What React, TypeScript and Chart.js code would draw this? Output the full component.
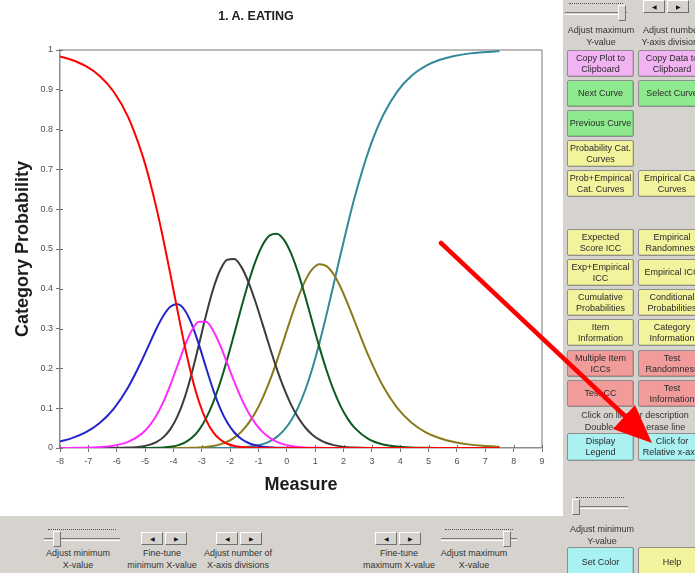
import React, { useEffect, useRef } from 'react';
import { Chart, registerables } from 'chart.js';

Chart.register(...registerables);

const FONT = "'Liberation Sans', Arial, Helvetica, sans-serif";

// ---- Data ----
const CHART_TITLE = '1. A. EATING';
const X_TITLE = 'Measure';
const Y_TITLE = 'Category Probability';
const X_TICKS = [-8, -7, -6, -5, -4, -3, -2, -1, 0, 1, 2, 3, 4, 5, 6, 7, 8, 9];
const Y_TICKS = [0, 0.1, 0.2, 0.3, 0.4, 0.5, 0.6, 0.7, 0.8, 0.9, 1];

const MEASURES = [
  -8, -7.6, -7.1, -6.6, -6.1, -5.6, -5.1, -4.85, -4.6, -4.35, -4.1, -3.85, -3.6, -3.35, -3.1, -2.85,
  -2.6, -2.35, -2.1, -1.85, -1.6, -1.35, -1.1, -0.85, -0.6, -0.35, -0.1, 0.15, 0.4, 0.65, 0.9, 1.15,
  1.4, 1.65, 1.9, 2.15, 2.4, 2.9, 3.4, 3.9, 4.4, 4.9, 5.4, 5.9, 6.4, 6.9, 7.4, 7.5,
];

const CAT_0 = [
  0.9836, 0.9756, 0.96, 0.9348, 0.8946, 0.8318, 0.7371, 0.6753, 0.6033, 0.522, 0.4339, 0.3434, 0.2564, 0.1793, 0.1167, 0.0707,
  0.04, 0.0212, 0.0106, 0.005, 0.0023, 0.001, 0.0004, 0.0002, 0.0001, 0, 0, 0, 0, 0, 0, 0,
  0, 0, 0, 0, 0, 0, 0, 0, 0, 0, 0, 0, 0, 0, 0, 0,
];
const CAT_1 = [
  0.0163, 0.0241, 0.0391, 0.0628, 0.0991, 0.152, 0.222, 0.2612, 0.2996, 0.3328, 0.3553, 0.361, 0.3462, 0.3107, 0.2598, 0.2021,
  0.1467, 0.0998, 0.064, 0.039, 0.0226, 0.0126, 0.0067, 0.0034, 0.0017, 0.0008, 0.0004, 0.0002, 0.0001, 0, 0, 0,
  0, 0, 0, 0, 0, 0, 0, 0, 0, 0, 0, 0, 0, 0, 0, 0,
];
const CAT_2 = [
  0.0001, 0.0003, 0.0009, 0.0023, 0.006, 0.0152, 0.0367, 0.0554, 0.0816, 0.1165, 0.1596, 0.2083, 0.2564, 0.2956, 0.3173, 0.317,
  0.2954, 0.258, 0.2126, 0.1662, 0.1239, 0.0884, 0.0605, 0.0399, 0.0253, 0.0155, 0.0091, 0.0052, 0.0028, 0.0015, 0.0007, 0.0004,
  0.0002, 0.0001, 0, 0, 0, 0, 0, 0, 0, 0, 0, 0, 0, 0, 0, 0,
];
const CAT_3 = [
  0, 0, 0, 0.0001, 0.0002, 0.001, 0.0041, 0.0079, 0.0149, 0.0273, 0.0481, 0.0806, 0.1273, 0.1885, 0.2598, 0.3333,
  0.3987, 0.4472, 0.4731, 0.4749, 0.4545, 0.4164, 0.3663, 0.3099, 0.2525, 0.1982, 0.1498, 0.1091, 0.0764, 0.0515, 0.0334, 0.0208,
  0.0125, 0.0072, 0.0041, 0.0022, 0.0012, 0.0003, 0.0001, 0, 0, 0, 0, 0, 0, 0, 0, 0,
];
const CAT_4 = [
  0, 0, 0, 0, 0, 0, 0.0001, 0.0002, 0.0006, 0.0014, 0.0031, 0.0066, 0.0134, 0.0255, 0.0451, 0.0744,
  0.1142, 0.1645, 0.2235, 0.288, 0.354, 0.4164, 0.4703, 0.5109, 0.5344, 0.5386, 0.523, 0.4889, 0.4399, 0.3806, 0.3166, 0.2534,
  0.1953, 0.1453, 0.1046, 0.0731, 0.0498, 0.0218, 0.0089, 0.0035, 0.0013, 0.0005, 0.0002, 0.0001, 0, 0, 0, 0,
];
const CAT_5 = [
  0, 0, 0, 0, 0, 0, 0, 0, 0, 0, 0, 0.0001, 0.0002, 0.0005, 0.0012, 0.0025,
  0.0049, 0.0091, 0.0158, 0.0261, 0.0412, 0.0623, 0.0903, 0.126, 0.1692, 0.219, 0.273, 0.3277, 0.3786, 0.4206, 0.4493, 0.4617,
  0.4569, 0.4364, 0.4034, 0.3622, 0.317, 0.2281, 0.1544, 0.1003, 0.0635, 0.0395, 0.0244, 0.0149, 0.0091, 0.0055, 0.0034, 0.0031,
];
const CAT_6 = [
  0, 0, 0, 0, 0, 0, 0, 0, 0, 0, 0, 0, 0, 0, 0, 0,
  0.0001, 0.0002, 0.0003, 0.0007, 0.0015, 0.0029, 0.0054, 0.0097, 0.0168, 0.0279, 0.0447, 0.0689, 0.1022, 0.1457, 0.1999, 0.2637,
  0.3351, 0.411, 0.4879, 0.5624, 0.632, 0.7498, 0.8366, 0.8962, 0.9352, 0.96, 0.9754, 0.985, 0.9909, 0.9945, 0.9966, 0.9969,
];

const SERIES = [
  { name: '0', values: CAT_0, color: '#ff0000', order: 0 },
  { name: '1', values: CAT_1, color: '#2424cc', order: 2 },
  { name: '2', values: CAT_2, color: '#ff2cff', order: 1 },
  { name: '3', values: CAT_3, color: '#3c3c3c', order: 3 },
  { name: '4', values: CAT_4, color: '#0c5a1e', order: 4 },
  { name: '5', values: CAT_5, color: '#8a7a1c', order: 5 },
  { name: '6', values: CAT_6, color: '#32899a', order: 6 },
];

const framePlugin = {
  id: 'frame',
  beforeDatasetsDraw(chart: any) {
    const { ctx, chartArea: a, scales } = chart;
    ctx.save();
    ctx.strokeStyle = '#a4a4a4';
    ctx.lineWidth = 1.5;
    ctx.beginPath();
    ctx.moveTo(a.left, a.top);
    ctx.lineTo(a.right, a.top);
    ctx.lineTo(a.right, a.bottom);
    ctx.stroke();
    ctx.strokeStyle = '#707070';
    ctx.lineWidth = 1;
    ctx.beginPath();
    X_TICKS.forEach((v) => {
      const px = Math.round(scales.x.getPixelForValue(v)) + 0.5;
      ctx.moveTo(px, a.bottom);
      ctx.lineTo(px, a.bottom - 3);
    });
    Y_TICKS.forEach((v) => {
      const py = Math.round(scales.y.getPixelForValue(v)) + 0.5;
      ctx.moveTo(a.left, py);
      ctx.lineTo(a.left + 3, py);
    });
    ctx.stroke();
    ctx.restore();
  },
};

function ProbabilityChart() {
  const ref = useRef<HTMLCanvasElement | null>(null);
  useEffect(() => {
    if (!ref.current) return;
    const chart = new Chart(ref.current, {
      type: 'line',
      data: {
        datasets: SERIES.map((s) => ({
          label: s.name,
          data: MEASURES.map((x, i) => ({ x, y: s.values[i] })),
          borderColor: s.color,
          backgroundColor: s.color,
          borderWidth: 2,
          pointRadius: 0,
          fill: false,
          cubicInterpolationMode: 'monotone',
          order: s.order,
        })),
      },
      options: {
        animation: false,
        responsive: false,
        devicePixelRatio: 1,
        events: [],
        layout: { padding: { top: 50, right: 21, bottom: 0, left: 0 } },
        plugins: { legend: { display: false }, tooltip: { enabled: false }, title: { display: false } },
        scales: {
          x: {
            type: 'linear',
            min: -8,
            max: 9,
            afterBuildTicks: (s: any) => {
              s.ticks = X_TICKS.map((v) => ({ value: v }));
            },
            afterFit: (s: any) => {
              s.height = 68;
            },
            ticks: {
              font: { size: 9, family: FONT },
              color: '#505050',
              padding: 4,
              maxRotation: 0,
              autoSkip: false,
              callback: (v: any) => String(v),
            },
            grid: { drawOnChartArea: false, tickLength: 4, color: '#707070' },
            border: { color: '#8c8c8c', width: 1.5 },
            title: {
              display: true,
              text: X_TITLE,
              font: { size: 18, weight: 'bold', family: FONT },
              color: '#1c1c1c',
              padding: { top: 0, bottom: 20 },
            },
          },
          y: {
            type: 'linear',
            min: 0,
            max: 1,
            afterBuildTicks: (s: any) => {
              s.ticks = Y_TICKS.map((v) => ({ value: v }));
            },
            afterFit: (s: any) => {
              s.width = 60;
            },
            ticks: {
              font: { size: 9, family: FONT },
              color: '#505050',
              padding: 3,
              autoSkip: false,
              callback: (v: any) => String(Math.round(Number(v) * 10) / 10),
            },
            grid: { drawOnChartArea: false, tickLength: 4, color: '#707070' },
            border: { color: '#8c8c8c', width: 1.5 },
            title: {
              display: true,
              text: Y_TITLE,
              font: { size: 18, weight: 'bold', family: FONT },
              color: '#1c1c1c',
              padding: { top: 12, bottom: 0 },
            },
          },
        },
      } as any,
      plugins: [framePlugin],
    });
    return () => chart.destroy();
  }, []);
  return <canvas ref={ref} width={563} height={516} style={{ position: 'absolute', left: 0, top: 0, display: 'block' }} />;
}

const PINK = '#f2b3f2';
const GREEN = '#8fe98f';
const YELLOW = '#f3f39d';
const RED = '#f29b9b';
const CYAN = '#aaf1f1';

function Btn({ x, y, w = 67, h = 27, bg, lines }: { x: number; y: number; w?: number; h?: number; bg: string; lines: string[] }) {
  return (
    <div
      style={{
        position: 'absolute',
        left: x,
        top: y,
        width: w,
        height: h,
        boxSizing: 'border-box',
        background: bg,
        border: '1px solid #8e8e8e',
        borderRadius: 2,
        boxShadow: 'inset -1px -1px 0 rgba(0,0,0,0.12)',
        display: 'flex',
        flexDirection: 'column',
        alignItems: 'center',
        justifyContent: 'center',
        font: `9px ${FONT}`,
        lineHeight: '11px',
        color: '#2a2a2a',
        whiteSpace: 'nowrap',
        overflow: 'hidden',
      }}
    >
      {lines.map((l, i) => (
        <div key={i}>{l}</div>
      ))}
    </div>
  );
}

function Label({ cx, y, lines, w = 140 }: { cx: number; y: number; lines: string[]; w?: number }) {
  return (
    <div
      style={{
        position: 'absolute',
        left: cx - w / 2,
        top: y,
        width: w,
        textAlign: 'center',
        font: `9px ${FONT}`,
        lineHeight: '12px',
        color: '#333',
        whiteSpace: 'nowrap',
      }}
    >
      {lines.map((l, i) => (
        <div key={i}>{l}</div>
      ))}
    </div>
  );
}

function ArrowBtn({ glyph }: { glyph: string }) {
  return (
    <div
      style={{
        width: 22,
        height: 13,
        boxSizing: 'border-box',
        background: '#d6d3ce',
        borderTop: '1px solid #ffffff',
        borderLeft: '1px solid #ffffff',
        borderRight: '1px solid #6e6e6e',
        borderBottom: '1px solid #6e6e6e',
        display: 'flex',
        alignItems: 'center',
        justifyContent: 'center',
        font: `6px ${FONT}`,
        color: '#111',
      }}
    >
      {glyph}
    </div>
  );
}

function Spinner({ x, y }: { x: number; y: number }) {
  return (
    <div style={{ position: 'absolute', left: x, top: y, display: 'flex', gap: 2 }}>
      <ArrowBtn glyph="◀" />
      <ArrowBtn glyph="▶" />
    </div>
  );
}

function Slider({ x, y, w, thumb }: { x: number; y: number; w: number; thumb: number }) {
  return (
    <div style={{ position: 'absolute', left: x, top: y, width: w, height: 20 }}>
      <div style={{ position: 'absolute', left: 4, top: 0, width: w - 8, borderTop: '1px dotted #555' }} />
      <div
        style={{
          position: 'absolute',
          left: 0,
          top: 9,
          width: w,
          height: 1,
          borderTop: '1px solid #7a7a7a',
          borderBottom: '1px solid #ffffff',
        }}
      />
      <div
        style={{
          position: 'absolute',
          left: thumb,
          top: 2,
          width: 8,
          height: 16,
          boxSizing: 'border-box',
          background: '#d6d3ce',
          borderTop: '1px solid #fff',
          borderLeft: '1px solid #fff',
          borderRight: '1px solid #6e6e6e',
          borderBottom: '1px solid #6e6e6e',
        }}
      />
    </div>
  );
}

export default function App() {
  return (
    <div
      style={{
        position: 'fixed',
        left: 0,
        top: 0,
        width: 695,
        height: 573,
        overflow: 'hidden',
        background: '#d6d3ce',
      }}
    >
      <div style={{ position: 'absolute', left: 0, top: 0, width: 563, height: 516, background: '#ffffff' }} />
      <ProbabilityChart />
      <div
        style={{
          position: 'absolute',
          left: 156,
          top: 9,
          width: 200,
          textAlign: 'center',
          font: `bold 12.5px ${FONT}`,
          lineHeight: '14px',
          color: '#202020',
        }}
      >
        {CHART_TITLE}
      </div>

      {/* right panel */}
      <Slider x={565} y={3} w={62} thumb={53} />
      <Spinner x={643} y={0} />
      <Label cx={601} y={24} lines={['Adjust maximum', 'Y-value']} w={80} />
      <Label cx={672} y={24} lines={['Adjust number', 'Y-axis divisions']} w={80} />

      <Btn x={567} y={50} bg={PINK} lines={['Copy Plot to', 'Clipboard']} />
      <Btn x={638} y={50} w={68} bg={PINK} lines={['Copy Data to', 'Clipboard']} />
      <Btn x={567} y={80} bg={GREEN} lines={['Next Curve']} />
      <Btn x={638} y={80} w={68} bg={GREEN} lines={['Select Curve']} />
      <Btn x={567} y={110} bg={GREEN} lines={['Previous Curve']} />
      <Btn x={567} y={140} bg={YELLOW} lines={['Probability Cat.', 'Curves']} />
      <Btn x={567} y={170} bg={YELLOW} lines={['Prob+Empirical', 'Cat. Curves']} />
      <Btn x={638} y={170} w={68} bg={YELLOW} lines={['Empirical Cat.', 'Curves']} />

      <Btn x={567} y={229} bg={YELLOW} lines={['Expected', 'Score ICC']} />
      <Btn x={638} y={229} w={68} bg={YELLOW} lines={['Empirical', 'Randomness']} />
      <Btn x={567} y={259} bg={YELLOW} lines={['Exp+Empirical', 'ICC']} />
      <Btn x={638} y={259} w={68} bg={YELLOW} lines={['Empirical ICC']} />
      <Btn x={567} y={289} bg={YELLOW} lines={['Cumulative', 'Probabilities']} />
      <Btn x={638} y={289} w={68} bg={YELLOW} lines={['Conditional', 'Probabilities']} />
      <Btn x={567} y={319} bg={YELLOW} lines={['Item', 'Information']} />
      <Btn x={638} y={319} w={68} bg={YELLOW} lines={['Category', 'Information']} />
      <Btn x={567} y={350} bg={RED} lines={['Multiple Item', 'ICCs']} />
      <Btn x={638} y={350} w={68} bg={RED} lines={['Test', 'Randomness']} />
      <Btn x={567} y={380} bg={RED} lines={['Test CC']} />
      <Btn x={638} y={380} w={68} bg={RED} lines={['Test', 'Information']} />

      <Label cx={635} y={409} lines={['Click on line for description', 'Double-click to erase line']} w={130} />
      <Btn x={567} y={433} h={28} bg={CYAN} lines={['Display', 'Legend']} />
      <Btn x={638} y={433} w={68} h={28} bg={CYAN} lines={['Click for', 'Relative x-axis']} />

      <Slider x={572} y={497} w={56} thumb={0} />
      <Label cx={602} y={523} lines={['Adjust minimum', 'Y-value']} w={80} />
      <Btn x={567} y={547} h={30} bg={CYAN} lines={['Set Color']} />
      <Btn x={638} y={547} w={68} h={30} bg={YELLOW} lines={['Help']} />

      {/* bottom panel */}
      <Slider x={44} y={529} w={76} thumb={9} />
      <Label cx={78} y={547} lines={['Adjust minimum', 'X-value']} w={80} />
      <Spinner x={141} y={532} />
      <Label cx={162} y={547} lines={['Fine-tune', 'minimum X-value']} w={80} />
      <Spinner x={216} y={532} />
      <Label cx={238} y={547} lines={['Adjust number of', 'X-axis divisions']} w={80} />
      <Spinner x={375} y={532} />
      <Label cx={399} y={547} lines={['Fine-tune', 'maximum X-value']} w={80} />
      <Slider x={441} y={529} w={76} thumb={62} />
      <Label cx={474} y={547} lines={['Adjust maximum', 'X-value']} w={80} />

      {/* red annotation arrow */}
      <svg width={695} height={573} style={{ position: 'absolute', left: 0, top: 0, pointerEvents: 'none' }}>
        <line x1={441} y1={243} x2={627} y2={418} stroke="#ff0000" strokeWidth={4.5} strokeLinecap="round" />
        <polygon points="652,443 613,429 635,405" fill="#ff0000" />
      </svg>
    </div>
  );
}
